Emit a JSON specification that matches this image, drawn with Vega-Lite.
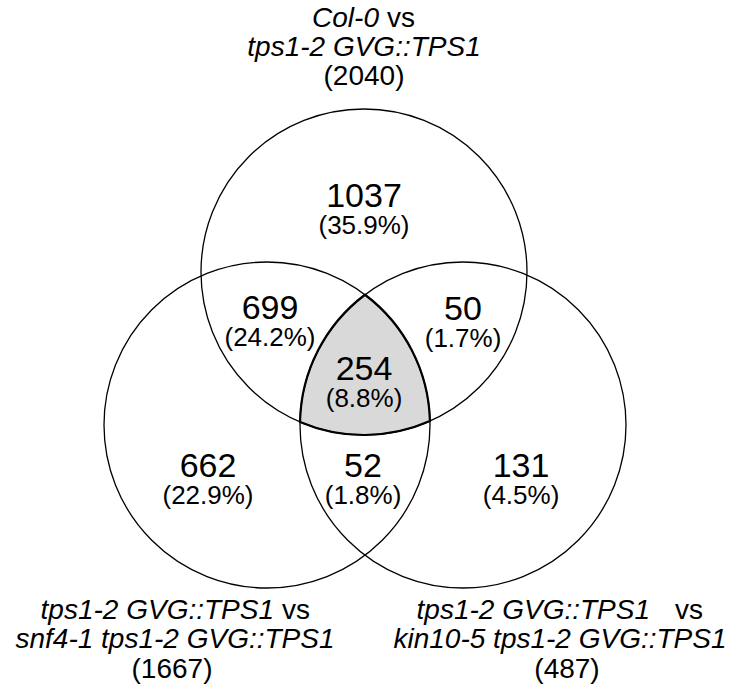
{
  "$schema": "https://vega.github.io/schema/vega-lite/v6.json",
  "width": 736,
  "height": 690,
  "autosize": {"type": "fit", "contains": "padding"},
  "padding": 0,
  "background": "white",
  "config": {"view": {"stroke": null}},
  "datasets": {
    "sets": [
      {"comparison": "Col-0 vs tps1-2 GVG::TPS1", "total": 2040, "x": 364, "y": 272},
      {"comparison": "tps1-2 GVG::TPS1 vs snf4-1 tps1-2 GVG::TPS1", "total": 1667, "x": 267, "y": 425},
      {"comparison": "tps1-2 GVG::TPS1 vs kin10-5 tps1-2 GVG::TPS1", "total": 487, "x": 463, "y": 425}
    ],
    "regions": [
      {"region": "Col-0 only", "count": 1037, "pct": "(35.9%)", "x": 364, "y": 207},
      {"region": "Col-0 & snf4-1", "count": 699, "pct": "(24.2%)", "x": 270, "y": 319},
      {"region": "Col-0 & kin10-5", "count": 50, "pct": "(1.7%)", "x": 463, "y": 320},
      {"region": "all three", "count": 254, "pct": "(8.8%)", "x": 364, "y": 380},
      {"region": "snf4-1 only", "count": 662, "pct": "(22.9%)", "x": 208, "y": 477},
      {"region": "snf4-1 & kin10-5", "count": 52, "pct": "(1.8%)", "x": 363, "y": 477},
      {"region": "kin10-5 only", "count": 131, "pct": "(4.5%)", "x": 521, "y": 477}
    ],
    "labels": [
      {"text": "Col-0", "role": "lead", "x": 379, "y": 27},
      {"text": "vs", "role": "vs", "x": 387, "y": 27},
      {"text": "tps1-2 GVG::TPS1", "role": "name", "x": 364, "y": 56},
      {"text": "(2040)", "role": "total", "x": 364, "y": 85},
      {"text": "tps1-2 GVG::TPS1", "role": "lead", "x": 274, "y": 619},
      {"text": "vs", "role": "vs", "x": 282, "y": 619},
      {"text": "snf4-1 tps1-2 GVG::TPS1", "role": "name", "x": 175, "y": 648},
      {"text": "(1667)", "role": "total", "x": 172, "y": 678},
      {"text": "tps1-2 GVG::TPS1", "role": "lead", "x": 650, "y": 619},
      {"text": "vs", "role": "vs", "x": 675, "y": 619},
      {"text": "kin10-5 tps1-2 GVG::TPS1", "role": "name", "x": 560, "y": 648},
      {"text": "(487)", "role": "total", "x": 567, "y": 678}
    ]
  },
  "encoding": {
    "x": {"field": "x", "type": "quantitative", "scale": {"domain": [0, 736], "nice": false, "zero": false}, "axis": null},
    "y": {"field": "y", "type": "quantitative", "scale": {"domain": [0, 690], "nice": false, "zero": false, "reverse": true}, "axis": null}
  },
  "layer": [
    {
      "data": {"name": "regions"},
      "transform": [{"filter": "datum.region === 'all three'"}],
      "mark": {
        "type": "point",
        "shape": "M0.0061,-0.523 A1,1 0 0 0 -0.3925,0.2572 A1,1 0 0 0 0.4046,0.2519 A1,1 0 0 0 0.0061,-0.523 Z",
        "size": 106276,
        "filled": true,
        "fill": "#d9d9d9",
        "stroke": "#000000",
        "strokeWidth": 2.2,
        "opacity": 1
      }
    },
    {
      "data": {"name": "sets"},
      "mark": {
        "type": "point",
        "shape": "circle",
        "size": 106276,
        "filled": false,
        "stroke": "#000000",
        "strokeWidth": 1.3,
        "opacity": 1
      }
    },
    {
      "data": {"name": "regions"},
      "mark": {"type": "text", "font": "Liberation Sans", "fontSize": 34, "align": "center", "baseline": "alphabetic", "color": "#000000"},
      "encoding": {"text": {"field": "count", "type": "quantitative", "format": "d"}}
    },
    {
      "data": {"name": "regions"},
      "mark": {"type": "text", "font": "Liberation Sans", "fontSize": 26, "align": "center", "baseline": "alphabetic", "dy": 27, "color": "#000000"},
      "encoding": {"text": {"field": "pct", "type": "nominal"}}
    },
    {
      "data": {"name": "labels"},
      "transform": [{"filter": "datum.role === 'lead'"}],
      "mark": {"type": "text", "font": "Liberation Sans", "fontSize": 28, "fontStyle": "italic", "align": "right", "baseline": "alphabetic", "color": "#000000"},
      "encoding": {"text": {"field": "text", "type": "nominal"}}
    },
    {
      "data": {"name": "labels"},
      "transform": [{"filter": "datum.role === 'name'"}],
      "mark": {"type": "text", "font": "Liberation Sans", "fontSize": 28, "fontStyle": "italic", "align": "center", "baseline": "alphabetic", "color": "#000000"},
      "encoding": {"text": {"field": "text", "type": "nominal"}}
    },
    {
      "data": {"name": "labels"},
      "transform": [{"filter": "datum.role === 'vs'"}],
      "mark": {"type": "text", "font": "Liberation Sans", "fontSize": 28, "align": "left", "baseline": "alphabetic", "color": "#000000"},
      "encoding": {"text": {"field": "text", "type": "nominal"}}
    },
    {
      "data": {"name": "labels"},
      "transform": [{"filter": "datum.role === 'total'"}],
      "mark": {"type": "text", "font": "Liberation Sans", "fontSize": 28, "align": "center", "baseline": "alphabetic", "color": "#000000"},
      "encoding": {"text": {"field": "text", "type": "nominal"}}
    }
  ]
}
